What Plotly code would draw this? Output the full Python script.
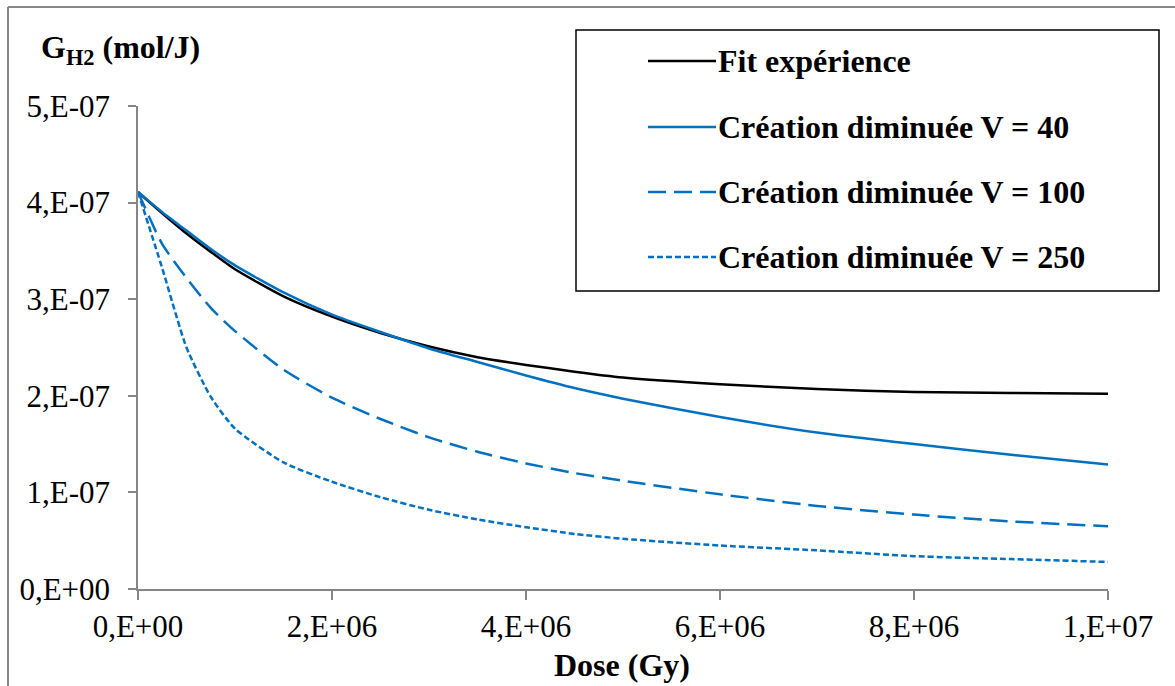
import plotly.graph_objects as go

# ---- data (dose in Gy, G in mol/J) ----
dose = [0, 0.25e6, 0.5e6, 0.75e6, 1e6, 1.5e6, 2e6, 2.5e6, 3e6, 3.5e6, 4e6,
        4.5e6, 5e6, 6e6, 7e6, 8e6, 9e6, 1e7]
fit_experience = [4.11, 3.89, 3.68, 3.49, 3.31, 3.03, 2.82, 2.65, 2.51, 2.40, 2.32,
                  2.25, 2.19, 2.12, 2.07, 2.04, 2.03, 2.02]
v40 = [4.11, 3.90, 3.71, 3.52, 3.35, 3.07, 2.84, 2.66, 2.49, 2.35, 2.21,
       2.08, 1.97, 1.78, 1.62, 1.50, 1.39, 1.29]
v100 = [4.11, 3.57, 3.22, 2.91, 2.67, 2.27, 1.98, 1.76, 1.57, 1.42, 1.30,
        1.20, 1.12, 0.98, 0.86, 0.77, 0.70, 0.65]
v250 = [4.11, 3.32, 2.50, 1.99, 1.66, 1.31, 1.11, 0.95, 0.82, 0.72, 0.64,
        0.57, 0.52, 0.45, 0.40, 0.34, 0.31, 0.28]
scale = 1e-7

series_names = ["Fit expérience", "Création diminuée V = 40",
                "Création diminuée V = 100", "Création diminuée V = 250"]
series_values = [fit_experience, v40, v100, v250]
series_colors = ["#000000", "#0070C0", "#0070C0", "#0070C0"]
series_dash = ["solid", "solid", "18px,8px", "6px,3px"]

x_tickvals = [0, 2e6, 4e6, 6e6, 8e6, 1e7]
x_ticktext = ["0,E+00", "2,E+06", "4,E+06", "6,E+06", "8,E+06", "1,E+07"]
y_tickvals = [0, 1e-7, 2e-7, 3e-7, 4e-7, 5e-7]
y_ticktext = ["0,E+00", "1,E-07", "2,E-07", "3,E-07", "4,E-07", "5,E-07"]

W, H = 1175, 686
L, R, T, B = 138, 67, 106, 97
PW, PH = W - L - R, H - T - B


def px(x):
    return (x - L) / PW


def py(y):
    return (H - B - y) / PH


FONT = "'Liberation Serif', 'Times New Roman', Times, serif"
GRAY = "#868686"

fig = go.Figure()
for name, vals, col, dash in zip(series_names, series_values, series_colors, series_dash):
    fig.add_trace(go.Scatter(
        x=dose, y=[v * scale for v in vals], mode="lines", name=name,
        line=dict(color=col, width=2.5, dash=dash, shape="spline", smoothing=0.6),
        showlegend=False,
    ))

shapes = []
annotations = []

# legend box
shapes.append(dict(type="rect", xref="paper", yref="paper",
                   x0=px(576), x1=px(1159), y0=py(291), y1=py(30),
                   line=dict(color="black", width=1.5), fillcolor="white", layer="above"))
rows = [61, 127, 192, 257]
for name, col, dash, r in zip(series_names, series_colors, series_dash, rows):
    shapes.append(dict(type="line", xref="paper", yref="paper",
                       x0=px(648), x1=px(716), y0=py(r), y1=py(r),
                       line=dict(color=col, width=2.5, dash=dash), layer="above"))
    annotations.append(dict(xref="paper", yref="paper", x=px(716), y=py(r),
                            xanchor="left", yanchor="middle", showarrow=False,
                            text="<b>" + name + "</b>",
                            font=dict(family=FONT, size=32, color="black")))

# outer frame (left and top edges visible)
shapes.append(dict(type="line", xref="paper", yref="paper",
                   x0=px(8), x1=px(8), y0=py(7), y1=py(H + 5),
                   line=dict(color=GRAY, width=2)))
shapes.append(dict(type="line", xref="paper", yref="paper",
                   x0=px(8), x1=px(W + 5), y0=py(7), y1=py(7),
                   line=dict(color=GRAY, width=2)))

# axis titles
annotations.append(dict(xref="paper", yref="paper", x=px(39), y=py(50),
                        xanchor="left", yanchor="middle", showarrow=False,
                        text="<b>G<sub>H2</sub> (mol/J)</b>",
                        font=dict(family=FONT, size=32, color="black")))
annotations.append(dict(xref="paper", yref="paper", x=px(622), y=py(665),
                        xanchor="center", yanchor="middle", showarrow=False,
                        text="<b>Dose (Gy)</b>",
                        font=dict(family=FONT, size=32, color="black")))

fig.update_layout(
    width=W, height=H, autosize=False,
    margin=dict(l=L, r=R, t=T, b=B),
    paper_bgcolor="white", plot_bgcolor="white",
    font=dict(family=FONT, color="black"),
    shapes=shapes, annotations=annotations,
    xaxis=dict(range=[0, 1e7], tickvals=x_tickvals, ticktext=x_ticktext,
               showgrid=False, zeroline=False, showline=True, linecolor=GRAY, linewidth=1.5,
               ticks="outside", ticklen=9, tickcolor=GRAY, tickwidth=1.5,
               tickfont=dict(family=FONT, size=31, color="black")),
    yaxis=dict(range=[0, 5e-7], tickvals=y_tickvals, ticktext=y_ticktext,
               showgrid=False, zeroline=False, showline=True, linecolor=GRAY, linewidth=1.5,
               ticks="outside", ticklen=8, tickcolor=GRAY, tickwidth=1.5,
               ticklabelstandoff=12,
               tickfont=dict(family=FONT, size=31, color="black")),
)

fig.write_html("out.html", config={"displayModeBar": False},
               post_script="document.body.style.margin='0';document.body.style.padding='0';")
